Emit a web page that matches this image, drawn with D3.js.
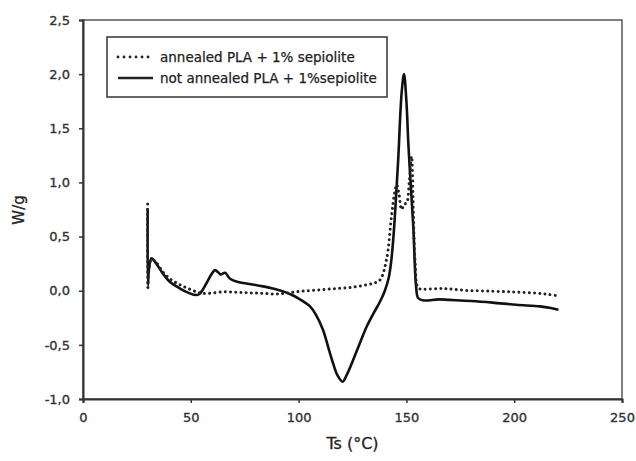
<!DOCTYPE html>
<html><head><meta charset="utf-8">
<script src="https://cdn.jsdelivr.net/npm/d3@7"></script>
<style>body{margin:0;background:#fff}svg{display:block}text{font-family:"DejaVu Sans",Verdana,sans-serif}</style>
</head><body><svg id="c" width="636" height="461"></svg>
<script>
const seriesNames = ["annealed PLA + 1% sepiolite", "not annealed PLA + 1%sepiolite"];
const annealedT = [30.0,30.1,30.6,31.8,34,37.2,41,45,50,54.3,58,65,72,78,84,90,95,100.6,108,116,124,131.6,135,137.8,140.8,143.1,144.5,145.5,146.5,147.8,149,150.1,151.3,152.4,153.2,154,155.5,158,167,178,190,200,208.7,215,219.7];
const annealedW = [0.80,0.03,0.2,0.29,0.26,0.17,0.1,0.055,0.01,-0.02,-0.025,-0.01,-0.015,-0.02,-0.025,-0.03,-0.02,-0.006,0.005,0.018,0.03,0.055,0.07,0.1,0.29,0.69,0.9,0.98,0.9,0.75,0.8,0.81,1.0,1.24,0.75,0.29,0.025,0.015,0.02,0.003,-0.005,-0.012,-0.02,-0.032,-0.045];
const notAnnealedT = [30.0,30.1,30.6,31.8,34,37,40.4,45,49,52,54,57,59.5,61.2,62.7,63.9,65.9,68.2,72,78,83.5,88,92.8,97,100.6,103,105.3,108,111.3,114,116,118,120.4,122.5,125.3,128.5,131.6,135,137.8,140,141.8,143,144,145,146.2,147.8,148.9,150,150.9,152,153.2,154.5,155.5,158,165,170,180,190,201,212,217,220.5];
const notAnnealedW = [0.76,0.05,0.2,0.30,0.25,0.16,0.08,0.02,-0.02,-0.04,-0.03,0.06,0.15,0.19,0.17,0.15,0.165,0.11,0.08,0.06,0.04,0.02,-0.006,-0.04,-0.08,-0.11,-0.145,-0.22,-0.36,-0.54,-0.67,-0.78,-0.84,-0.77,-0.64,-0.48,-0.33,-0.2,-0.1,0.0,0.12,0.28,0.5,0.8,1.21,1.83,2.0,1.75,1.36,0.98,0.59,0.04,-0.07,-0.09,-0.08,-0.085,-0.095,-0.11,-0.13,-0.145,-0.16,-0.175];
const xTicks = [0,50,100,150,200,250];
const yTicks = [-1.0,-0.5,0.0,0.5,1.0,1.5,2.0,2.5];
const xTitle = "Ts (°C)";
const yTitle = "W/g";

const svg = d3.select("#c");
const L=83, R=622, T=20, B=399;
const x = d3.scaleLinear().domain([0,250]).range([L,R]);
const y = d3.scaleLinear().domain([-1,2.5]).range([B,T]);
const fmt = d => d3.format(".1f")(d).replace(".",",").replace("−","-");

// frame
svg.append("rect").attr("x",L).attr("y",T).attr("width",R-L).attr("height",B-T)
  .attr("fill","none").attr("stroke","#555").attr("stroke-width",1.5);

// axes
const xa = svg.append("g").attr("transform",`translate(0,${B})`)
  .call(d3.axisBottom(x).tickValues(xTicks).tickSize(4).tickPadding(10).tickFormat(d3.format("d")));
const ya = svg.append("g").attr("transform",`translate(${L},0)`)
  .call(d3.axisLeft(y).tickValues(yTicks).tickSize(4).tickPadding(9).tickFormat(fmt));
[xa,ya].forEach(a=>{
  a.select(".domain").attr("stroke","#333").attr("stroke-width",2);
  a.selectAll(".tick line").attr("stroke","#333").attr("stroke-width",1.5);
  a.selectAll(".tick text").attr("fill","#333").attr("font-size",13)
    .attr("font-family","'DejaVu Sans', Verdana, sans-serif")
    .attr("stroke","#333").attr("stroke-width",0.35);
});

// lines
const line = d3.line().x(d=>x(d[0])).y(d=>y(d[1])).curve(d3.curveCatmullRom.alpha(0.5));
const ann = annealedT.map((t,i)=>[t,annealedW[i]]);
const nann = notAnnealedT.map((t,i)=>[t,notAnnealedW[i]]);
svg.append("path").attr("d",line(nann)).attr("fill","none").attr("stroke","#111").attr("stroke-width",2.6).attr("stroke-linejoin","round");
svg.append("path").attr("d",line(ann)).attr("fill","none").attr("stroke","#222").attr("stroke-width",3)
  .attr("stroke-dasharray","0.01,5.2").attr("stroke-linecap","round");

// titles
svg.append("text").attr("x",(L+R)/2).attr("y",449).attr("text-anchor","middle")
  .attr("font-size",16).attr("fill","#222").attr("stroke","#222").attr("stroke-width",0.3).text(xTitle);
svg.append("text").attr("transform","translate(24,210) rotate(-90)").attr("text-anchor","middle")
  .attr("font-size",15).attr("fill","#222").attr("stroke","#222").attr("stroke-width",0.3).text(yTitle);

// legend
const lg = svg.append("g");
lg.append("rect").attr("x",107).attr("y",37).attr("width",280).attr("height",60)
  .attr("fill","#fff").attr("stroke","#333").attr("stroke-width",1.5);
const rows=[{y:57,dash:true},{y:78,dash:false}];
rows.forEach((r,i)=>{
  const p = lg.append("line").attr("x1",118).attr("x2",153).attr("y1",r.y).attr("y2",r.y).attr("stroke","#222");
  if(r.dash) p.attr("stroke-width",2.8).attr("stroke-dasharray","0.01,6").attr("stroke-linecap","round");
  else p.attr("stroke-width",2.6);
  lg.append("text").attr("x",160).attr("y",r.y+4.5).attr("font-size",13.5).attr("fill","#222")
    .attr("stroke","#222").attr("stroke-width",0.25).text(seriesNames[i]);
});
</script></body></html>
